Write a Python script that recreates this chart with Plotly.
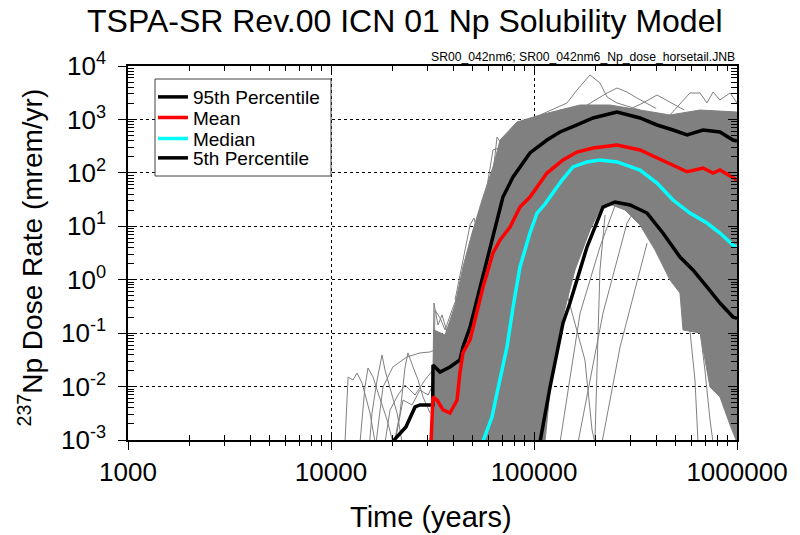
import plotly.graph_objects as go

# ---------------- data ----------------
p95_t = [20200, 23390, 25940, 27420, 31700, 31800, 34440, 38550, 43150, 44670, 48420, 52360,
         56100, 60670, 65770, 70300, 78850, 95500, 115900, 134300, 162900, 195400, 244900,
         256400, 332700, 403600, 484200, 567500, 680800, 824100, 955000, 1000000]
p95_d = [0.00095, 0.00175, 0.00415, 0.00452, 0.00452, 0.0254, 0.0187, 0.0233, 0.0314, 0.0551, 0.130, 0.417,
         1.34, 4.09, 13.1, 35.3, 83.7, 236, 412, 582, 787, 1064, 1318,
         1377, 1064, 787, 634, 512, 634, 582, 412, 394]

mean_t = [31120, 31770, 33270, 35650, 38550, 41780, 43150, 44670, 48420, 52360, 56100, 62810,
          68080, 76210, 85310, 95500, 107200, 115900, 139000, 162900, 195400, 244900, 256400,
          332700, 403600, 484200, 567500, 680800, 762100, 824100, 955000, 1000000]
mean_d = [0.00095, 0.00638, 0.0056, 0.00365, 0.0032, 0.0056, 0.0179, 0.0426, 0.0745, 0.238, 0.731, 3.16,
          5.53, 9.7, 23.0, 35.3, 64.6, 99.3, 174, 245, 292, 332, 332,
          268, 190, 140, 105, 123, 99.3, 113, 80.2, 73.5]

med_t = [56100, 62090, 65770, 73630, 78850, 85310, 95500, 103500, 113200, 137400, 155600,
         182400, 211300, 256400, 332700, 403600, 484200, 586100, 711200, 824100, 955000, 1000000]
med_d = [0.00095, 0.00269, 0.0076, 0.0551, 0.308, 1.73, 7.48, 17.7, 26.0, 73.5, 129,
         160, 174, 160, 113, 64.6, 31.0, 17.7, 11.5, 7.48, 4.47, 4.1]

p5_t = [107200, 120000, 139000, 150300, 182400, 218800, 250600, 297200, 360600, 431500,
        523600, 606700, 711200, 824100, 955000, 1000000]
p5_d = [0.00095, 0.0098, 0.155, 0.366, 4.09, 23.0, 28.5, 25.0, 17.7, 7.48,
        2.66, 1.52, 0.731, 0.366, 0.200, 0.19]

env_t = [30760, 31770, 32140, 36480, 40830, 44670, 49550, 55460, 62810, 68080, 82410, 107200,
         134300, 168700, 236600, 332700, 467700, 657700, 1000000,
         1000000, 924700, 824100, 736200, 657700, 542000, 523600, 467700, 394500, 332700,
         280500, 242100, 211300, 188800, 159200, 137400, 122700, 113200]
env_d = [0.0009, 0.0056, 0.1146, 0.0923, 0.336, 1.73, 7.48, 31.0, 129, 412, 895, 1211,
         1500, 1862, 1862, 1500, 1211, 1500, 1377,
         0.0009, 0.0019, 0.00638, 0.0098, 0.1007, 0.1146, 0.564, 0.989, 3.6, 10.6,
         20.2, 25.0, 20.2, 8.53, 1.52, 0.176, 0.0204, 0.0009]

real_t = [
    [11720, 12140, 12830, 13430, 14220, 14690, 15560, 16490],
    [13900, 14690, 15210, 16110, 17060, 18880, 20180],
    [15500, 15920, 16870, 17840, 18450, 19540, 21150, 22400],
    [16680, 18030, 20180, 23660, 27420, 30760, 33000],
    [20500, 21880, 23170, 23950, 25350, 26850, 28400, 30760],
    [18450, 19540, 21380, 23170, 25940, 29040, 31770],
    [20660, 22650, 25060, 27420, 30060, 31770],
    [31460, 32140, 33650, 35240, 37670, 40830, 44160, 48420],
    [31770, 32510, 34440, 36480, 39450, 43150, 47320],
    [44160, 54200, 60670, 65770, 69550, 73630, 78850, 85310, 92490, 98860, 107200, 134300, 188800],
    [40830, 45710, 48420, 50580, 52970, 57410, 62090, 66530, 71940],
    [51170, 57410, 62810, 68080, 74470, 83370, 95500, 113200, 150300],
    [107200, 145500, 162900, 188800, 211300, 229100, 256400, 332700],
    [180000, 229100, 256400, 287100, 321400, 400000],
    [467700, 586100, 657700, 711200, 762100, 824100, 924700, 1000000],
    [290000, 344400, 403600, 467700, 550000],
    [134300, 168700, 211300, 256400],
    [164800, 218800, 287100, 307500],
    [216300, 265500, 360600],
    [199500, 211300, 223900],
    [126800, 150300, 178200, 193200, 199500],
    [554600, 586100, 620900, 642700],
    [657700, 695000, 736200, 762100],
]
real_d = [
    [0.0009, 0.0151, 0.0133, 0.0179, 0.0117, 0.0076, 0.0032, 0.0009],
    [0.0009, 0.0098, 0.0223, 0.0151, 0.0076, 0.0024, 0.0009],
    [0.0009, 0.0032, 0.0133, 0.039, 0.0204, 0.0098, 0.0032, 0.0009],
    [0.0009, 0.0098, 0.0233, 0.0358, 0.0426, 0.0444, 0.05],
    [0.0009, 0.0032, 0.0233, 0.0426, 0.0233, 0.0133, 0.0064, 0.0032],
    [0.0009, 0.00365, 0.00695, 0.0107, 0.00695, 0.0133, 0.0204],
    [0.0009, 0.0056, 0.00452, 0.0086, 0.00695, 0.0107],
    [0.0009, 0.366, 0.142, 0.219, 0.0923, 0.142, 0.417, 0.99],
    [0.0009, 0.271, 0.192, 0.1146, 0.271, 0.641, 1.52],
    [0.417, 5.53, 31.0, 469, 332, 305, 634, 721, 975, 857, 975, 1500, 1862],
    [0.417, 3.6, 10.6, 14.3, 7.82, 16.3, 73.5, 174, 268],
    [2.34, 31.0, 268, 292, 412, 512, 787, 1064, 1637],
    [1211, 2032, 3556, 6790, 4810, 2630, 2032, 1500],
    [1800, 3126, 3873, 3260, 2518, 1600],
    [1211, 3126, 3126, 2032, 3260, 2312, 3126, 2032],
    [1500, 2032, 2864, 2118, 1500],
    [0.0009, 0.238, 4.09, 31.0],
    [0.0009, 0.238, 11.5, 17.7],
    [0.0009, 0.0551, 4.86],
    [0.0009, 1.52, 16.3],
    [3.6, 0.336, 0.0314, 0.00154, 0.0009],
    [0.641, 0.1146, 0.0133, 0.0009],
    [0.1146, 0.0204, 0.0024, 0.0009],
]

series_names = ["95th Percentile", "Mean", "Median", "5th Percentile"]
series_colors = ["#000000", "#ff0000", "#00ffff", "#000000"]

x_tickvals = [1000, 10000, 100000, 1000000]
x_ticktext = ["1000", "10000", "100000", "1000000"]
y_tickvals = [1e-3, 1e-2, 1e-1, 1e0, 1e1, 1e2, 1e3, 1e4]
y_ticktext = ["10<sup>-3</sup>", "10<sup>-2</sup>", "10<sup>-1</sup>", "10<sup>0</sup>",
              "10<sup>1</sup>", "10<sup>2</sup>", "10<sup>3</sup>", "10<sup>4</sup>"]

title_text = "TSPA-SR Rev.00 ICN 01 Np Solubility Model"
file_text = "SR00_042nm6; SR00_042nm6_Np_dose_horsetail.JNB"

# ---------------- figure ----------------
FONT = "Liberation Sans, Arial, sans-serif"
GRAY = "#808080"

fig = go.Figure()

fig.add_trace(go.Scatter(x=env_t, y=env_d, mode="lines", fill="toself",
                         fillcolor=GRAY, line=dict(color=GRAY, width=1),
                         showlegend=False, hoverinfo="skip"))
for tt, dd in zip(real_t, real_d):
    fig.add_trace(go.Scatter(x=tt, y=dd, mode="lines", line=dict(color=GRAY, width=1),
                             showlegend=False, hoverinfo="skip"))

legend_ids = ["legend", "legend2", "legend3", "legend4"]
for (tt, dd), nm, col, lg in zip([(p95_t, p95_d), (mean_t, mean_d), (med_t, med_d), (p5_t, p5_d)],
                                 series_names, series_colors, legend_ids):
    fig.add_trace(go.Scatter(x=tt, y=dd, mode="lines", name=nm, legend=lg,
                             line=dict(color=col, width=3.5)))

# invisible anchor traces so that the tick-only overlay axes are drawn
for xa, ya in [("x2", "y2"), ("x3", "y3"), ("x4", "y4"), ("x5", "y2")]:
    fig.add_trace(go.Scatter(x=[1000], y=[0.001], xaxis=xa, yaxis=ya, mode="markers",
                             marker=dict(opacity=0), showlegend=False, hoverinfo="skip"))

tick_only = dict(showticklabels=False, showline=False, showgrid=False, zeroline=False,
                 tickwidth=1.2, tickcolor="#000000", tick0=0)
xlog = dict(type="log", range=[3, 6])
ylog = dict(type="log", range=[-3, 4])

row_y = [0.917, 0.862, 0.806, 0.754]
leg_style = dict(x=0.041, xanchor="left", yanchor="middle", bgcolor="rgba(0,0,0,0)",
                 borderwidth=0, font=dict(size=19, family=FONT, color="black"))

fig.update_layout(
    width=800, height=535,
    margin=dict(l=128, r=63, t=66, b=95),
    paper_bgcolor="white", plot_bgcolor="white",
    font=dict(family=FONT, color="black"),
    title=dict(text=title_text, x=0.506, xanchor="center", y=1 - 21 / 535, yanchor="middle",
               yref="container", font=dict(size=32, family=FONT, color="black")),
    xaxis=dict(**xlog, tickmode="array", tickvals=x_tickvals, ticktext=x_ticktext,
               ticks="outside", ticklen=8, tickwidth=1.2, tickcolor="#000000",
               showline=True, linecolor="black", linewidth=1.5, mirror=True,
               tickfont=dict(size=26, family=FONT), zeroline=False,
               showgrid=True, gridcolor="black", griddash="dot", gridwidth=1),
    yaxis=dict(**ylog, tickmode="array", tickvals=y_tickvals, ticktext=y_ticktext,
               ticks="outside", ticklen=8, tickwidth=1.2, tickcolor="#000000", ticklabelstandoff=7,
               showline=True, linecolor="black", linewidth=1.5, mirror=True,
               tickfont=dict(size=26, family=FONT), zeroline=False,
               showgrid=True, gridcolor="black", griddash="dot", gridwidth=1),
    # decade ticks, inside (bottom + mirrored top)
    xaxis2=dict(**xlog, overlaying="x", anchor="y", side="bottom", dtick=1,
                ticks="inside", ticklen=8, mirror="ticks", **tick_only),
    # decade ticks, outside (bottom)
    xaxis3=dict(**xlog, overlaying="x", anchor="y", side="bottom", dtick=1,
                ticks="outside", ticklen=8, **tick_only),
    # 2..9 ticks, inside (bottom + mirrored top)
    xaxis4=dict(**xlog, overlaying="x", anchor="y", side="bottom", dtick="D1",
                ticks="inside", ticklen=5, mirror="ticks", **tick_only),
    # 2..9 ticks, outside (bottom)
    xaxis5=dict(**xlog, overlaying="x", anchor="y", side="bottom", dtick="D1",
                ticks="outside", ticklen=5, **tick_only),
    # decade ticks, inside (left + mirrored right)
    yaxis2=dict(**ylog, overlaying="y", anchor="x", side="left", dtick=1,
                ticks="inside", ticklen=9, mirror="ticks", **tick_only),
    # decade ticks, outside (left)
    yaxis3=dict(**ylog, overlaying="y", anchor="x", side="left", dtick=1,
                ticks="outside", ticklen=8, **tick_only),
    # 2..9 ticks, inside (left + mirrored right)
    yaxis4=dict(**ylog, overlaying="y", anchor="x", side="left", dtick="D1",
                ticks="inside", ticklen=6, mirror="ticks", **tick_only),
    legend=dict(y=row_y[0], **leg_style),
    legend2=dict(y=row_y[1], **leg_style),
    legend3=dict(y=row_y[2], **leg_style),
    legend4=dict(y=row_y[3], **leg_style),
    showlegend=True,
)

# legend frame
fig.add_shape(type="rect", xref="paper", yref="paper",
              x0=(155 - 128) / 609, x1=(331 - 128) / 609,
              y0=(440 - 176) / 374, y1=(440 - 79) / 374,
              fillcolor="white", line=dict(color="#404040", width=1), layer="above")

fig.add_annotation(text=file_text, xref="paper", yref="paper", x=1.0, y=1.024,
                   xanchor="right", yanchor="middle", showarrow=False,
                   font=dict(size=12.2, family=FONT, color="black"))
fig.add_annotation(text="Time (years)", xref="paper", yref="paper", x=0.497, y=-0.207,
                   xanchor="center", yanchor="middle", showarrow=False,
                   font=dict(size=29, family=FONT, color="black"))
fig.add_annotation(text="<sup>237</sup>Np Dose Rate (mrem/yr)", xref="paper", yref="paper",
                   x=-0.16, y=0.487, xanchor="center", yanchor="middle", textangle=-90,
                   showarrow=False, font=dict(size=28, family=FONT, color="black"))

fig.write_html("out.html")
